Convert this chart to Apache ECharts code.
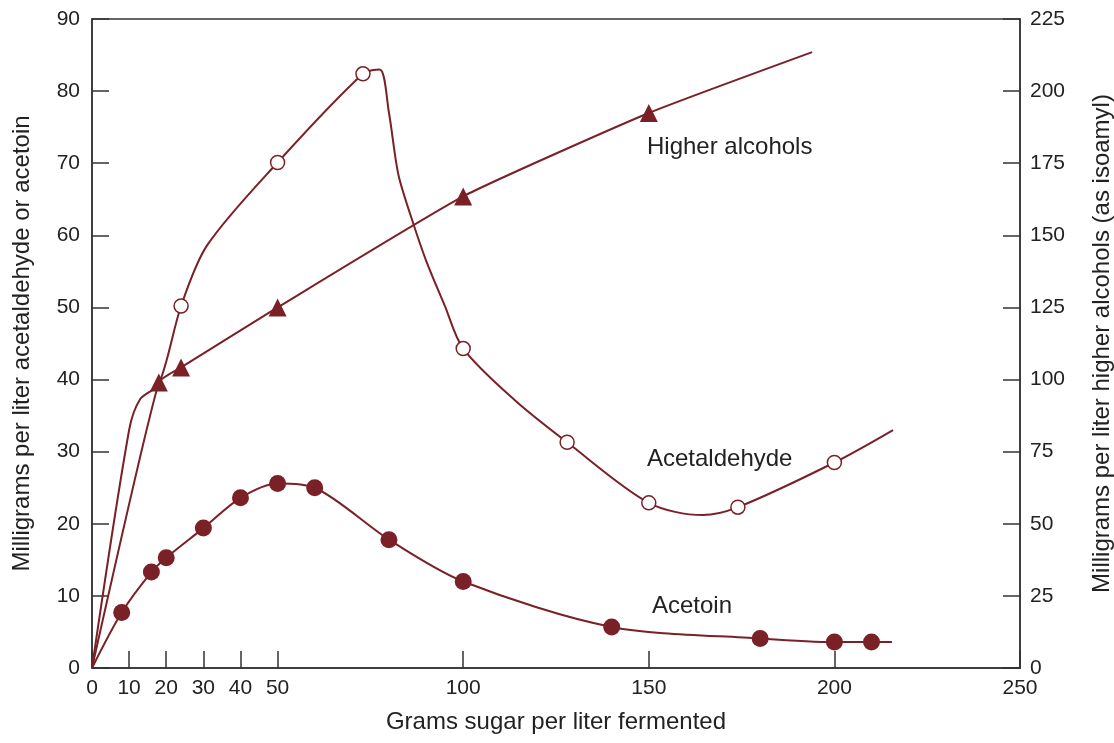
<!DOCTYPE html>
<html>
<head>
<meta charset="utf-8">
<script src="https://cdn.jsdelivr.net/npm/echarts@6/dist/echarts.min.js"></script>
<style>
  html, body { margin: 0; padding: 0; background: #fff; }
  #chart { width: 1114px; height: 743px; }
</style>
</head>
<body>
<div id="chart"></div>
<script>
// x ticks shown on the axis
const xTicks = [0, 10, 20, 30, 40, 50, 100, 150, 200, 250];

// acetaldehyde, mg/L (left axis) - measured points and the drawn curve
const acetaldehydePts = [[24, 50.2], [50, 70.1], [73, 82.4], [100, 44.3], [128, 31.3], [150, 22.9], [174, 22.3], [200, 28.5]];
const acetaldehydeCurve = [
  [0, 0], [10, 33], [13, 37.3], [18, 39.4], [24, 50.2], [31, 58.6], [50, 70.1], [73, 82.4],
  [77.5, 83], [80, 77], [82.5, 68.5], [86, 62.5], [90, 56.5], [95, 50.3], [100, 44.3], [114, 37.1],
  [128, 31.3], [150, 22.9], [164.5, 21.2], [174, 22.3], [200, 28.5], [215.8, 33]
];

// acetoin, mg/L (left axis)
const acetoinPts = [[8, 7.7], [16, 13.3], [20, 15.3], [30, 19.4], [40, 23.6], [50, 25.6], [60, 25.0], [80, 17.8], [100, 12.0], [140, 5.7], [180, 4.1], [200, 3.6], [210, 3.6]];
const acetoinCurve = [[0, 0]].concat(acetoinPts, [[215.5, 3.6]]);

// higher alcohols as isoamyl, mg/L (right axis)
const alcoholsPts = [[18, 99], [24, 104.2], [50, 125], [100, 163.5], [150, 192.4]];
const alcoholsCurve = [[0, 0], [18, 99], [24, 104.2], [50, 125], [100, 163.5], [150, 192.4], [194, 213.5]];

const maroon = '#7a2027';
const ink = '#222';
const font = 'Liberation Sans, Arial, sans-serif';

const chart = echarts.init(document.getElementById('chart'));

const axisCommon = {
  axisLine: { show: true, lineStyle: { color: '#333', width: 1.5 } },
  axisTick: { show: true, inside: true, length: 17, lineStyle: { color: '#333', width: 1.5 } },
  splitLine: { show: false },
  axisLabel: { color: ink, fontSize: 21, fontFamily: font },
  nameTextStyle: { color: ink, fontSize: 24, fontFamily: font },
  nameLocation: 'middle'
};

chart.setOption({
  animation: false,
  grid: {
    left: 92, right: 94, top: 19, bottom: 75, outerBoundsMode: 'none',
    show: true, borderColor: '#333', borderWidth: 1.5
  },
  xAxis: Object.assign({}, axisCommon, {
    type: 'value', min: 0, max: 250, interval: 10,
    name: 'Grams sugar per liter fermented', nameGap: 42,
    axisTick: Object.assign({}, axisCommon.axisTick, { customValues: xTicks }),
    axisLabel: Object.assign({}, axisCommon.axisLabel, { customValues: xTicks, margin: 10 })
  }),
  yAxis: [
    Object.assign({}, axisCommon, {
      type: 'value', min: 0, max: 90, interval: 10, position: 'left',
      name: 'Milligrams per liter acetaldehyde or acetoin', nameGap: 58, nameRotate: 90,
      axisLabel: Object.assign({}, axisCommon.axisLabel, { margin: 12 })
    }),
    Object.assign({}, axisCommon, {
      type: 'value', min: 0, max: 225, interval: 25, position: 'right',
      name: 'Milligrams per liter higher alcohols (as isoamyl)', nameGap: 70, nameRotate: 90,
      axisLabel: Object.assign({}, axisCommon.axisLabel, { margin: 10 })
    })
  ],
  series: [
    {
      type: 'line', data: acetaldehydeCurve, yAxisIndex: 0, smooth: 0.3,
      showSymbol: false, lineStyle: { color: maroon, width: 2 }, z: 2
    },
    {
      type: 'line', data: acetoinCurve, yAxisIndex: 0, smooth: 0.3,
      showSymbol: false, lineStyle: { color: maroon, width: 2 }, z: 2
    },
    {
      type: 'line', data: alcoholsCurve, yAxisIndex: 1, smooth: 0.15,
      showSymbol: false, lineStyle: { color: maroon, width: 2 }, z: 2
    },
    {
      type: 'scatter', data: acetaldehydePts, yAxisIndex: 0, symbol: 'circle', symbolSize: 14,
      itemStyle: { color: '#fff', borderColor: maroon, borderWidth: 1.5, opacity: 1 }, z: 5
    },
    {
      type: 'scatter', data: acetoinPts, yAxisIndex: 0, symbol: 'circle', symbolSize: 17,
      itemStyle: { color: maroon, opacity: 1 }, z: 5
    },
    {
      type: 'scatter', data: alcoholsPts, yAxisIndex: 1, symbol: 'triangle', symbolSize: 18,
      itemStyle: { color: maroon, opacity: 1 }, z: 5
    }
  ],
  graphic: [
    { type: 'text', left: 647, top: 135, style: { text: 'Higher alcohols', fill: ink, font: '24px ' + font } },
    { type: 'text', left: 647, top: 447, style: { text: 'Acetaldehyde', fill: ink, font: '24px ' + font } },
    { type: 'text', left: 652, top: 594, style: { text: 'Acetoin', fill: ink, font: '24px ' + font } }
  ]
});
</script>
</body>
</html>
